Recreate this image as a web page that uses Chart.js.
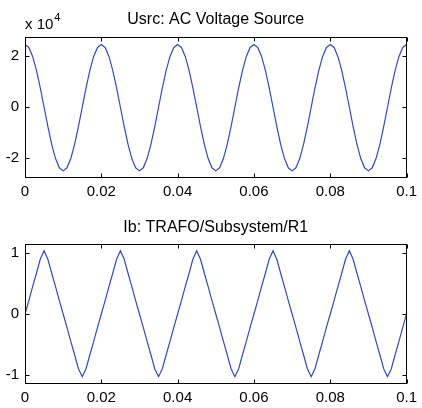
<!DOCTYPE html>
<html>
<head>
<meta charset="utf-8">
<script src="https://cdn.jsdelivr.net/npm/chart.js"></script>
<style>
  body { margin: 0; background: #fff; width: 422px; height: 408px; position: relative; overflow: hidden; }
  .panel { position: absolute; left: 0; width: 422px; }
</style>
</head>
<body>
<div class="panel" style="top:0;height:200px"><canvas id="usrc"></canvas></div>
<div class="panel" style="top:200px;height:208px"><canvas id="ib"></canvas></div>
<script>
// sample instants, 1 ms apart
const time = Array.from({ length: 101 }, (_, i) => +(i * 0.001).toFixed(3));

// Usrc in volts
const usrc = [
  24600, 23400, 19900, 14400, 7600, 0, -7600, -14500, -20100, -23700,
  -24900, -23700, -20100, -14500, -7600, 0, 7600, 14400, 19900, 23400,
  24600, 23400, 19900, 14400, 7600, 0, -7600, -14500, -20100, -23700,
  -24900, -23700, -20100, -14500, -7600, 0, 7600, 14400, 19900, 23400,
  24600, 23400, 19900, 14400, 7600, 0, -7600, -14500, -20100, -23700,
  -24900, -23700, -20100, -14500, -7600, 0, 7600, 14400, 19900, 23400,
  24600, 23400, 19900, 14400, 7600, 0, -7600, -14500, -20100, -23700,
  -24900, -23700, -20100, -14500, -7600, 0, 7600, 14400, 19900, 23400,
  24600, 23400, 19900, 14400, 7600, 0, -7600, -14500, -20100, -23700,
  -24900, -23700, -20100, -14500, -7600, 0, 7600, 14400, 19900, 23400,
  24600
];

// Ib (near-triangular, rounded tips)
const ib = [
  0, 0.22, 0.45, 0.67, 0.90, 1.04, 0.90, 0.67, 0.45, 0.22,
  0, -0.22, -0.45, -0.67, -0.90, -1.03, -0.90, -0.67, -0.45, -0.22,
  0, 0.22, 0.45, 0.67, 0.90, 1.04, 0.90, 0.67, 0.45, 0.22,
  0, -0.22, -0.45, -0.67, -0.90, -1.03, -0.90, -0.67, -0.45, -0.22,
  0, 0.22, 0.45, 0.67, 0.90, 1.04, 0.90, 0.67, 0.45, 0.22,
  0, -0.22, -0.45, -0.67, -0.90, -1.03, -0.90, -0.67, -0.45, -0.22,
  0, 0.22, 0.45, 0.67, 0.90, 1.04, 0.90, 0.67, 0.45, 0.22,
  0, -0.22, -0.45, -0.67, -0.90, -1.03, -0.90, -0.67, -0.45, -0.22,
  0, 0.22, 0.45, 0.67, 0.90, 1.04, 0.90, 0.67, 0.45, 0.22,
  0, -0.22, -0.45, -0.67, -0.90, -1.03, -0.90, -0.67, -0.45, -0.22,
  0
];

const xTicks = [0, 0.02, 0.04, 0.06, 0.08, 0.1];
const usrcTicks = [-20000, 0, 20000];
const ibTicks = [-1, 0, 1];

const FONT = "'Liberation Sans', Arial, sans-serif";
Chart.defaults.font.family = FONT;
Chart.defaults.color = '#000';

// matlab style frame: full box, inward ticks, title above the axes
function frame(title, titleY, exponent) {
  return {
    id: 'frame',
    afterDraw(chart) {
      const ctx = chart.ctx;
      const a = chart.chartArea;
      const L = Math.round(a.left) + 0.5, R = Math.round(a.right) - 0.5;
      const T = Math.round(a.top) + 0.5, B = Math.round(a.bottom) - 0.5;
      ctx.save();
      ctx.strokeStyle = '#000';
      ctx.lineWidth = 1;
      ctx.strokeRect(L, T, R - L, B - T);
      ctx.beginPath();
      chart.scales.x.ticks.forEach(t => {
        const px = Math.round(chart.scales.x.getPixelForValue(t.value)) + 0.5;
        ctx.moveTo(px, B); ctx.lineTo(px, B - 4);
        ctx.moveTo(px, T); ctx.lineTo(px, T + 4);
      });
      chart.scales.y.ticks.forEach(t => {
        const py = Math.round(chart.scales.y.getPixelForValue(t.value)) + 0.5;
        ctx.moveTo(L, py); ctx.lineTo(L + 4, py);
        ctx.moveTo(R, py); ctx.lineTo(R - 4, py);
      });
      ctx.stroke();

      ctx.fillStyle = '#000';
      ctx.textBaseline = 'alphabetic';
      ctx.textAlign = 'center';
      ctx.font = '16px ' + FONT;
      ctx.fillText(title, (a.left + a.right) / 2, titleY);
      if (exponent) {
        ctx.textAlign = 'left';
        ctx.font = '15px ' + FONT;
        ctx.fillText('x 10', a.left, 29);
        const w = ctx.measureText('x 10').width;
        ctx.font = '11px ' + FONT;
        ctx.fillText(exponent, a.left + w + 1, 21);
      }
      ctx.restore();
    }
  };
}

function makeChart(id, values, yTicks, yMin, yMax, yFmt, padTop, xHeight, title, titleY, exponent) {
  new Chart(document.getElementById(id), {
    type: 'line',
    data: {
      datasets: [{
        data: time.map((t, i) => ({ x: t, y: values[i] })),
        borderColor: '#2f4db5',
        borderWidth: 1.2,
        pointRadius: 0,
        tension: 0,
        fill: false
      }]
    },
    options: {
      responsive: true,
      maintainAspectRatio: false,
      animation: false,
      layout: { padding: { top: padTop, right: 11, left: 0, bottom: 0 } },
      plugins: { legend: { display: false }, tooltip: { enabled: false } },
      scales: {
        x: {
          type: 'linear',
          min: 0,
          max: 0.1,
          afterBuildTicks: s => { s.ticks = xTicks.map(v => ({ value: v })); },
          afterFit: s => { s.height = xHeight; },
          ticks: {
            font: { size: 15 },
            padding: 5,
            maxRotation: 0,
            callback: v => String(+v.toFixed(2))
          },
          grid: { display: false, drawTicks: false },
          border: { display: false }
        },
        y: {
          min: yMin,
          max: yMax,
          afterBuildTicks: s => { s.ticks = yTicks.map(v => ({ value: v })); },
          afterFit: s => { s.width = 25; },
          ticks: {
            font: { size: 15 },
            padding: 6,
            callback: yFmt
          },
          grid: { display: false, drawTicks: false },
          border: { display: false }
        }
      }
    },
    plugins: [frame(title, titleY, exponent)]
  });
}

makeChart('usrc', usrc, usrcTicks, -27700, 27500, v => String(v / 10000),
  37, 22, 'Usrc: AC Voltage Source', 24, '4');
makeChart('ib', ib, ibTicks, -1.15, 1.15, v => String(v),
  44, 24, 'Ib: TRAFO/Subsystem/R1', 31.5, null);
</script>
</body>
</html>
